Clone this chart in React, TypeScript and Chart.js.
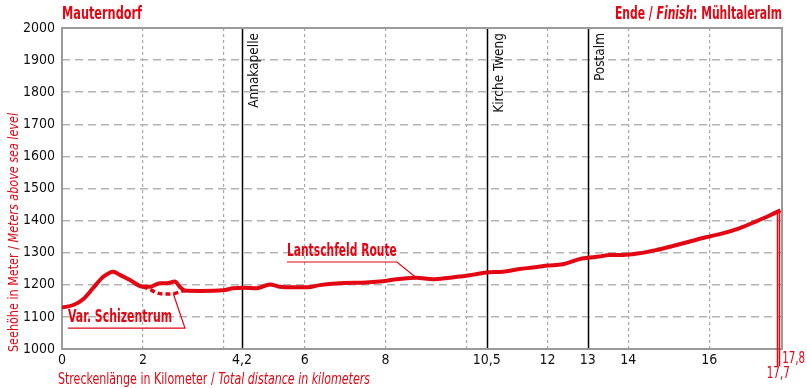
import React, { useEffect, useRef } from "react";
import { Chart, registerables } from "chart.js";

Chart.register(...registerables);

// ---- data ----
const routeKm = [
  0, 0.28, 0.53, 0.77, 1.02, 1.27, 1.43, 1.68, 2.0, 2.17, 2.42, 2.59, 2.79, 2.91, 3.04, 3.41, 3.98, 4.23,
  4.48, 4.81, 5.14, 5.38, 5.71, 6.08, 6.37, 6.86, 7.52, 7.85, 8.26, 8.76, 9.17, 9.58, 9.99, 10.49, 10.9,
  11.31, 11.64, 12.0, 12.38, 12.79, 13.0, 13.28, 13.53, 13.86, 14.27, 14.68, 15.1, 15.5, 15.92, 16.33,
  16.74, 17.15, 17.48, 17.76,
];
const routeElev = [
  1129, 1137, 1156, 1190, 1225, 1241, 1231, 1215, 1194, 1194, 1205, 1205, 1210, 1194, 1182, 1181, 1183,
  1189, 1191, 1189, 1201, 1194, 1192, 1192, 1199, 1205, 1207, 1210, 1217, 1222, 1217, 1222, 1228, 1238,
  1241, 1249, 1254, 1260, 1264, 1280, 1284, 1288, 1293, 1293, 1298, 1308, 1321, 1334, 1348, 1360, 1376,
  1397, 1415, 1432,
];
const variantKm = [2.0, 2.17, 2.34, 2.55, 2.78, 2.95, 3.05];
const variantElev = [1194, 1186, 1175, 1171, 1173, 1180, 1182];

const xTickKm = [0, 2, 4, 4.45, 6, 8, 10, 10.5, 12, 13, 14, 16];
const xTickText = ["0", "2", "", "4,2", "6", "8", "", "10,5", "12", "13", "14", "16"];
const xGridKm = [2, 4, 6, 8, 10, 12, 14, 16];
const yTickValues = [1000, 1100, 1200, 1300, 1400, 1500, 1600, 1700, 1800, 1900, 2000];

const markerKm = [4.45, 10.5, 13];
const markerNames = ["Annakapelle", "Kirche Tweng", "Postalm"];
const endKm = [17.67, 17.73];
const endLabels = ["17,7", "17,8"];

const titleLeft = "Mauterndorf";
const titleRightParts = [
  { text: "Ende / ", italic: false },
  { text: "Finish", italic: true },
  { text: ": Mühltaleralm", italic: false },
];
const yTitleParts = [
  { text: "Seehöhe in Meter / ", italic: false },
  { text: "Meters above sea level", italic: true },
];
const xTitleParts = [
  { text: "Streckenlänge in Kilometer / ", italic: false },
  { text: "Total distance in kilometers", italic: true },
];

// annotations: label anchor (km, elev), underline end km, pointer target (km, elev)
const routeLabel = { text: "Lantschfeld Route", km: 5.56, elev: 1302, lineElev: 1271, lineEndKm: 8.28, toKm: 8.76, toElev: 1222, w: 110 };
const variantLabel = { text: "Var. Schizentrum", km: 0.15, elev: 1097, lineElev: 1065, lineEndKm: 3.04, toKm: 2.75, toElev: 1173, w: 104 };

// ---- style ----
const RED = "#e30613";
const FONT = '"Liberation Sans Narrow", "Arial Narrow", "DejaVu Sans Condensed", sans-serif';

type Part = { text: string; italic: boolean };

function fontStr(italic: boolean, bold: boolean, size: number) {
  return `${italic ? "italic " : ""}${bold ? "bold " : ""}${size}px ${FONT}`;
}

function richWidth(ctx: CanvasRenderingContext2D, parts: Part[], size: number, bold: boolean) {
  let w = 0;
  for (const p of parts) {
    ctx.font = fontStr(p.italic, bold, size);
    w += ctx.measureText(p.text).width;
  }
  return w;
}

function drawRich(
  ctx: CanvasRenderingContext2D,
  parts: Part[],
  x: number,
  y: number,
  size: number,
  bold: boolean,
  color: string,
  targetW?: number
) {
  const w = richWidth(ctx, parts, size, bold);
  ctx.save();
  ctx.translate(x, y);
  if (targetW) ctx.scale(targetW / w, 1);
  ctx.fillStyle = color;
  ctx.textAlign = "left";
  ctx.textBaseline = "middle";
  let cx = 0;
  for (const p of parts) {
    ctx.font = fontStr(p.italic, bold, size);
    ctx.fillText(p.text, cx, 0);
    cx += ctx.measureText(p.text).width;
  }
  ctx.restore();
}

const extrasPlugin = {
  id: "extras",
  beforeDatasetsDraw(chart: any) {
    const { ctx, chartArea, scales } = chart;
    const xs = scales.x;
    // markers
    ctx.save();
    ctx.strokeStyle = "#000";
    ctx.lineWidth = 1.5;
    markerKm.forEach((km, i) => {
      const px = Math.round(xs.getPixelForValue(km)) + 0.5;
      ctx.beginPath();
      ctx.moveTo(px, chartArea.top);
      ctx.lineTo(px, chartArea.bottom);
      ctx.stroke();
      ctx.save();
      ctx.translate(px + 5, chartArea.top + 5);
      ctx.rotate(-Math.PI / 2);
      ctx.font = fontStr(false, false, 13.5);
      ctx.fillStyle = "#111";
      ctx.textAlign = "right";
      ctx.textBaseline = "top";
      ctx.fillText(markerNames[i], 0, 0);
      ctx.restore();
    });
    ctx.restore();
    // frame
    ctx.save();
    ctx.strokeStyle = "#9a9a9a";
    ctx.lineWidth = 2;
    ctx.strokeRect(chartArea.left, chartArea.top, chartArea.right - chartArea.left, chartArea.bottom - chartArea.top);
    ctx.restore();
    // end lines
    ctx.save();
    ctx.strokeStyle = RED;
    ctx.lineWidth = 1.5;
    const topY = scales.y.getPixelForValue(routeElev[routeElev.length - 1]);
    endKm.forEach((km) => {
      const px = Math.round(xs.getPixelForValue(km)) + 0.5;
      ctx.beginPath();
      ctx.moveTo(px, topY);
      ctx.lineTo(px, chartArea.bottom + 17);
      ctx.stroke();
    });
    ctx.restore();
  },
  afterDraw(chart: any) {
    const { ctx, chartArea, scales } = chart;
    const xs = scales.x;
    const ys = scales.y;
    // titles
    drawRich(ctx, [{ text: titleLeft, italic: false }], chartArea.left, 15, 17, true, RED, 80);
    drawRich(ctx, titleRightParts, chartArea.right - 167, 15, 17, true, RED, 167);
    // axis titles
    ctx.save();
    ctx.translate(14, 352);
    ctx.rotate(-Math.PI / 2);
    drawRich(ctx, yTitleParts, 0, 0, 14, false, RED, 239);
    ctx.restore();
    drawRich(ctx, xTitleParts, 58, 380, 16, false, RED, 312);
    // end labels
    const e0 = xs.getPixelForValue(endKm[0]);
    const e1 = xs.getPixelForValue(endKm[1]);
    drawRich(ctx, [{ text: endLabels[1], italic: false }], e1 + 3, 359, 16, false, RED, 23);
    drawRich(ctx, [{ text: endLabels[0], italic: false }], e0 - 10, 374, 16, false, RED, 23);
    // annotations
    for (const a of [routeLabel, variantLabel]) {
      const lx = xs.getPixelForValue(a.km);
      const ly = ys.getPixelForValue(a.elev);
      const ulY = ys.getPixelForValue(a.lineElev);
      const ulX2 = xs.getPixelForValue(a.lineEndKm);
      const tx = xs.getPixelForValue(a.toKm);
      const ty = ys.getPixelForValue(a.toElev);
      ctx.save();
      ctx.strokeStyle = RED;
      ctx.lineWidth = 1.2;
      ctx.beginPath();
      ctx.moveTo(lx, ulY);
      ctx.lineTo(ulX2, ulY);
      ctx.lineTo(tx, ty);
      ctx.stroke();
      ctx.restore();
      drawRich(ctx, [{ text: a.text, italic: false }], lx, ly, 17, true, RED, a.w);
    }
  },
};

export default function App() {
  const ref = useRef<HTMLCanvasElement | null>(null);
  useEffect(() => {
    if (!ref.current) return;
    const chart = new Chart(ref.current, {
      type: "line",
      data: {
        datasets: [
          {
            data: routeKm.map((k, i) => ({ x: k, y: routeElev[i] })),
            borderColor: RED,
            borderWidth: 4,
            pointRadius: 0,
            cubicInterpolationMode: "monotone",
            fill: false,
            order: 1,
          },
          {
            data: variantKm.map((k, i) => ({ x: k, y: variantElev[i] })),
            borderColor: RED,
            borderWidth: 3.5,
            borderDash: [5, 3],
            pointRadius: 0,
            cubicInterpolationMode: "monotone",
            fill: false,
            order: 2,
          },
        ],
      },
      options: {
        animation: false,
        responsive: false,
        devicePixelRatio: 1,
        layout: { padding: { left: 0, top: 28, right: 25, bottom: 0 } },
        plugins: { legend: { display: false }, tooltip: { enabled: false }, title: { display: false } },
        scales: {
          x: {
            type: "linear",
            min: 0,
            max: 17.8,
            afterBuildTicks: (scale: any) => {
              scale.ticks = xTickKm.map((v) => ({ value: v }));
            },
            afterFit: (scale: any) => {
              scale.height = 39;
            },
            ticks: {
              autoSkip: false,
              maxRotation: 0,
              padding: 3,
              color: "#111",
              font: { family: FONT, size: 14 },
              callback: (_v: any, i: number) => xTickText[i],
            },
            grid: {
              drawTicks: false,
              lineWidth: 1.2,
              color: (c: any) => (c.tick && xGridKm.includes(c.tick.value) ? "#a8a8a8" : "rgba(0,0,0,0)"),
            },
            border: { display: false, dash: [3, 3] },
          },
          y: {
            min: 1000,
            max: 2000,
            afterBuildTicks: (scale: any) => {
              scale.ticks = yTickValues.map((v) => ({ value: v }));
            },
            afterFit: (scale: any) => {
              scale.width = 62;
            },
            ticks: {
              padding: 7,
              color: "#111",
              font: { family: FONT, size: 14 },
              callback: (v: any) => String(v),
            },
            grid: { drawTicks: false, lineWidth: 1.6, color: "#b3b3b3" },
            border: { display: false, dash: [8, 5] },
          },
        },
      },
      plugins: [extrasPlugin],
    } as any);
    return () => chart.destroy();
  }, []);
  return (
    <div style={{ position: "fixed", left: 0, top: 0, width: 807, height: 388, background: "#fff" }}>
      <canvas ref={ref} width={807} height={388} style={{ display: "block", width: 807, height: 388 }} />
    </div>
  );
}
